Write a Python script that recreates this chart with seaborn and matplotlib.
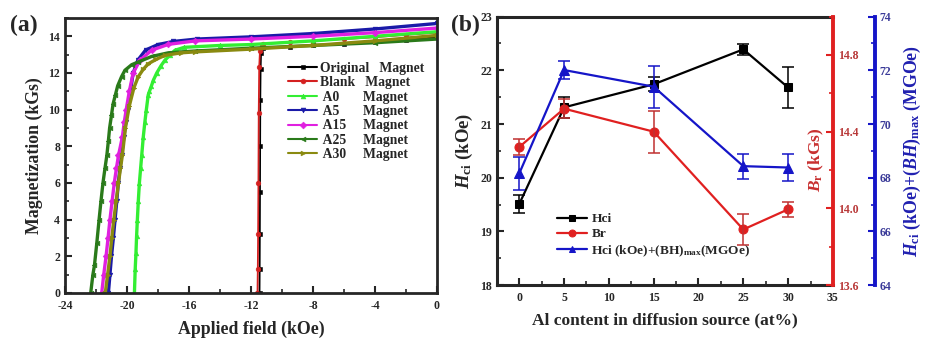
import matplotlib
matplotlib.use("Agg")
import matplotlib.pyplot as plt
import seaborn as sns
import pandas as pd
from matplotlib.ticker import MultipleLocator

# ---------------- (a) demagnetization curves ----------------
# applied field (kOe) and magnetization (kGs) for each magnet
original_h = [-11.45, -11.44, -11.43, -11.42, -11.41, -11.40, -11.38, -11.35, -11.2, -9.5, -8.0, -6.0, -4.0, -2.0, 0.0]
original_m = [0.0, 1.3, 3.2, 5.5, 8.0, 10.5, 12.2, 13.1, 13.35, 13.42, 13.5, 13.6, 13.7, 13.82, 13.95]

blank_h = [-11.58, -11.56, -11.54, -11.52, -11.5, -11.47, -11.42, -11.3, -11.2, -9.5, -8.0, -6.0, -4.0, -2.0, 0.0]
blank_m = [0.0, 1.3, 3.2, 6.0, 9.8, 12.3, 13.2, 13.5, 13.6, 13.68, 13.75, 13.85, 13.95, 14.08, 14.2]

a0_h = [-19.52, -19.47, -19.42, -19.38, -19.33, -19.27, -19.2, -19.12, -19.05, -18.95, -18.85, -18.75,
        -18.63, -18.55, -18.42, -18.3, -18.08, -17.8, -17.55, -17.2, -16.9, -16.3, -14.0, -12.0, -8.0, -4.0, 0.0]
a0_m = [0.0, 1.3, 2.2, 3.1, 4.0, 5.0, 6.0, 6.8, 7.5, 8.5, 9.3, 10.0,
        10.8, 11.0, 11.3, 11.6, 12.0, 12.4, 12.7, 13.0, 13.24, 13.4, 13.5, 13.55, 13.75, 14.0, 14.25]

a5_h = [-21.2, -21.1, -21.0, -20.88, -20.77, -20.66, -20.56, -20.45, -20.35, -20.2, -20.08, -19.95,
        -19.78, -19.6, -19.3, -18.8, -18.0, -17.0, -15.5, -12.0, -8.0, -4.0, 0.0]
a5_m = [0.0, 1.0, 2.0, 3.0, 4.0, 5.0, 6.0, 6.8, 7.5, 8.5, 9.3, 10.0,
        11.0, 12.0, 12.7, 13.25, 13.55, 13.72, 13.85, 13.97, 14.15, 14.4, 14.7]

a15_h = [-21.63, -21.5, -21.35, -21.22, -21.1, -20.96, -20.82, -20.68, -20.55, -20.3, -20.18, -20.05,
         -19.85, -19.6, -19.16, -18.41, -17.33, -15.6, -12.0, -8.0, -4.0, 0.0]
a15_m = [0.0, 1.0, 2.0, 3.0, 4.0, 5.0, 6.0, 6.8, 7.5, 8.5, 9.3, 10.0,
         11.0, 12.0, 12.7, 13.24, 13.56, 13.75, 13.85, 14.0, 14.2, 14.45]

a25_h = [-22.34, -22.2, -22.1, -21.95, -21.8, -21.68, -21.55, -21.42, -21.3, -21.2, -21.12, -21.0,
         -20.9, -20.75, -20.6, -20.35, -20.13, -19.7, -19.27, -18.41, -17.33, -15.6, -12.0, -8.0, -4.0, 0.0]
a25_m = [0.0, 1.0, 1.5, 2.7, 4.0, 5.0, 6.0, 6.8, 7.5, 8.3, 9.0, 9.7,
         10.3, 10.8, 11.3, 11.8, 12.15, 12.45, 12.6, 12.9, 13.1, 13.2, 13.35, 13.5, 13.65, 13.85]

a30_h = [-21.4, -21.25, -21.1, -20.98, -20.85, -20.7, -20.55, -20.42, -20.3, -20.1, -19.85, -19.55,
         -19.27, -18.95, -18.63, -18.1, -17.55, -16.5, -15.6, -12.0, -8.0, -4.0, 0.0]
a30_m = [0.0, 1.0, 2.0, 3.0, 4.0, 5.0, 6.0, 6.8, 7.5, 9.0, 10.2, 11.2,
         11.8, 12.2, 12.5, 12.75, 12.96, 13.1, 13.15, 13.3, 13.5, 13.75, 14.05]

curve_labels = ["Original   Magnet", "Blank   Magnet", " A0       Magnet", " A5       Magnet",
                " A15     Magnet", " A25     Magnet", " A30     Magnet"]

# ---------------- (b) properties vs. Al content ----------------
al_content = [0, 5, 15, 25, 30]
hci = [19.51, 21.31, 21.74, 22.39, 21.68]
hci_err = [0.16, 0.20, 0.13, 0.10, 0.39]
br = [14.32, 14.52, 14.40, 13.89, 13.995]
br_err = [0.04, 0.05, 0.11, 0.08, 0.04]
hci_bh = [68.16, 72.01, 71.39, 68.43, 68.38]
hci_bh_err = [0.62, 0.35, 0.78, 0.46, 0.50]

# ---------------- style ----------------
sns.set_style("ticks")
plt.rcParams.update({
    "font.family": ["Liberation Serif", "DejaVu Serif"],
    "font.weight": "bold",
    "axes.labelweight": "bold",
    "axes.unicode_minus": False,
    "mathtext.fontset": "custom",
    "mathtext.rm": "Liberation Serif:bold",
    "mathtext.it": "Liberation Serif:italic:bold",
    "mathtext.bf": "Liberation Serif:bold",
    "xtick.direction": "in",
    "ytick.direction": "in",
})

fig = plt.figure(figsize=(9.27, 3.39), dpi=100)
fig.patch.set_facecolor("white")

# ===== panel (a) =====
ax_a = fig.add_axes([0.0701, 0.1357, 0.4013, 0.8113])
curves = [
    (original_h, original_m, "#000000", "s"),
    (blank_h, blank_m, "#d42020", "o"),
    (a0_h, a0_m, "#33ee33", "^"),
    (a5_h, a5_m, "#1a1aa8", "v"),
    (a15_h, a15_m, "#e020e0", "D"),
    (a25_h, a25_m, "#2a7a1a", "<"),
    (a30_h, a30_m, "#8a8a10", ">"),
]
for (h, m, col, mk), lab in zip(curves, curve_labels):
    df = pd.DataFrame({"H": h, "M": m})
    lw = 1.3 if lab.startswith(("Original", "Blank")) else 2.4
    sns.lineplot(data=df, x="H", y="M", ax=ax_a, color=col, marker=mk, markersize=3.4,
                 markeredgewidth=0.4, markeredgecolor=col, linewidth=lw, sort=False,
                 estimator=None, label=lab)

ax_a.set_xlim(-24, 0)
ax_a.set_ylim(0, 15)
ax_a.xaxis.set_major_locator(MultipleLocator(4))
ax_a.xaxis.set_minor_locator(MultipleLocator(2))
ax_a.yaxis.set_major_locator(MultipleLocator(2))
ax_a.yaxis.set_minor_locator(MultipleLocator(1))
ax_a.set_yticks([0, 2, 4, 6, 8, 10, 12, 14])
ax_a.tick_params(which="major", length=5, width=1.5, labelsize=8.5)
ax_a.tick_params(axis="x", which="major", pad=5)
ax_a.tick_params(which="minor", length=3, width=1.2)
ax_a.tick_params(top=False, right=False, which="both")
for s in ax_a.spines.values():
    s.set_linewidth(2)
ax_a.set_xlabel("Applied field (kOe)", fontsize=12.8, labelpad=6)
ax_a.set_ylabel("Magnetization (kGs)", fontsize=12.8, labelpad=4)
for lbl in ax_a.get_xticklabels() + ax_a.get_yticklabels():
    lbl.set_fontweight("bold")
leg_a = ax_a.legend(loc="upper left", bbox_to_anchor=(0.58, 0.865), frameon=False, fontsize=9.8,
                    handlelength=2.2, handletextpad=0.2, labelspacing=0.1, borderpad=0, numpoints=1)
for line in leg_a.get_lines():
    line.set_linewidth(1.5)
    line.set_markersize(3.5)
fig.text(0.011, 0.925, "(a)", fontsize=17, fontweight="bold", va="center", ha="left")

# ===== panel (b) =====
ax_b = fig.add_axes([0.536, 0.159, 0.3625, 0.792])
ax_br = ax_b.twinx()
ax_bh = ax_b.twinx()
ax_bh.spines["right"].set_position(("outward", 30))

black, red, blue = "#000000", "#e02020", "#1515c8"

df_b = pd.DataFrame({"Al": al_content, "Hci": hci, "Br": br, "HB": hci_bh})
sns.lineplot(data=df_b, x="Al", y="HB", ax=ax_bh, color=blue, marker="^", markersize=7,
             markeredgecolor=blue, linewidth=1.6, legend=False)
ax_bh.errorbar(al_content, hci_bh, yerr=hci_bh_err, fmt="none", ecolor=blue, elinewidth=1.1,
               capsize=4, capthick=1.1)
sns.lineplot(data=df_b, x="Al", y="Hci", ax=ax_b, color=black, marker="s", markersize=6,
             markeredgecolor=black, linewidth=1.6, legend=False)
ax_b.errorbar(al_content, hci, yerr=hci_err, fmt="none", ecolor=black, elinewidth=1.1,
              capsize=4, capthick=1.1)
sns.lineplot(data=df_b, x="Al", y="Br", ax=ax_br, color=red, marker="o", markersize=6.5,
             markeredgecolor=red, linewidth=1.6, legend=False)
ax_br.errorbar(al_content, br, yerr=br_err, fmt="none", ecolor="#c03030", elinewidth=1.1,
               capsize=4, capthick=1.1)

ax_b.set_xlim(-2.5, 35)
ax_b.set_ylim(18, 23)
ax_br.set_ylim(13.6, 15.0)
ax_bh.set_ylim(64, 74)

ax_b.set_xticks([0, 5, 10, 15, 20, 25, 30, 35])
ax_b.xaxis.set_minor_locator(MultipleLocator(2.5))
ax_b.yaxis.set_major_locator(MultipleLocator(1))
ax_b.yaxis.set_minor_locator(MultipleLocator(0.5))
ax_br.set_yticks([13.6, 14.0, 14.4, 14.8])
ax_br.yaxis.set_minor_locator(MultipleLocator(0.2))
ax_bh.yaxis.set_major_locator(MultipleLocator(2))
ax_bh.yaxis.set_minor_locator(MultipleLocator(1))

ax_b.tick_params(which="major", length=5, width=1.5, labelsize=8.5, top=False, right=False)
ax_b.tick_params(axis="x", which="major", pad=5)
ax_b.tick_params(which="minor", length=3, width=1.2, top=False, right=False)
ax_br.tick_params(axis="y", which="major", direction="in", length=5, width=1.5, colors=red,
                  labelcolor="#b83838", labelsize=8.5)
ax_br.tick_params(axis="y", which="minor", direction="in", length=3, width=1.2, colors=red)
ax_bh.tick_params(axis="y", which="major", direction="in", length=5, width=1.5, colors=blue,
                  labelcolor="#3a3a98", labelsize=8.5)
ax_bh.tick_params(axis="y", which="minor", direction="in", length=3, width=1.2, colors=blue)

for s in ["left", "top", "bottom"]:
    ax_b.spines[s].set_linewidth(2.2)
ax_b.spines["right"].set_visible(False)
for tw in (ax_br, ax_bh):
    for s in ["left", "top", "bottom"]:
        tw.spines[s].set_visible(False)
ax_br.spines["right"].set_color(red)
ax_br.spines["right"].set_linewidth(2.8)
ax_bh.spines["right"].set_color(blue)
ax_bh.spines["right"].set_linewidth(2.8)

ax_b.set_xlabel("Al content in diffusion source (at%)", fontsize=12.5, labelpad=6)
ax_b.set_ylabel(r"$\mathit{H}_{\rm ci}$ (kOe)", fontsize=13.5, labelpad=4)
ax_br.set_ylabel(r"$\mathit{B}_{\rm r}$ (kGs)", fontsize=12.5, color="#c83030")
ax_br.yaxis.set_label_coords(0.952, 0.466)
ax_br.yaxis.label.set_va("center")
ax_bh.set_ylabel(r"$\mathit{H}_{\rm ci}$ (kOe)+($\mathit{BH}$)$_{\rm max}$ (MGOe)", fontsize=12.8,
                 color="#2020b0", labelpad=8)
for a in (ax_b, ax_br, ax_bh):
    for lbl in a.get_xticklabels() + a.get_yticklabels():
        lbl.set_fontweight("bold")

handles = ax_b.get_lines()[:1] + ax_br.get_lines()[:1] + ax_bh.get_lines()[:1]
labels = ["Hci", "Br", "Hci (kOe)+(BH)$_{\\rm max}$(MGOe)"]
leg_b = ax_bh.legend(handles, labels, loc="upper left", bbox_to_anchor=(0.158, 0.293), frameon=False,
                     fontsize=9.6, handlelength=2.3, handletextpad=0.3, labelspacing=0.2,
                     borderpad=0, numpoints=1)
for line in leg_b.get_lines():
    line.set_markersize(5)
fig.text(0.486, 0.925, "(b)", fontsize=17, fontweight="bold", va="center", ha="left")

fig.savefig("out.png", dpi=100, facecolor="white")
